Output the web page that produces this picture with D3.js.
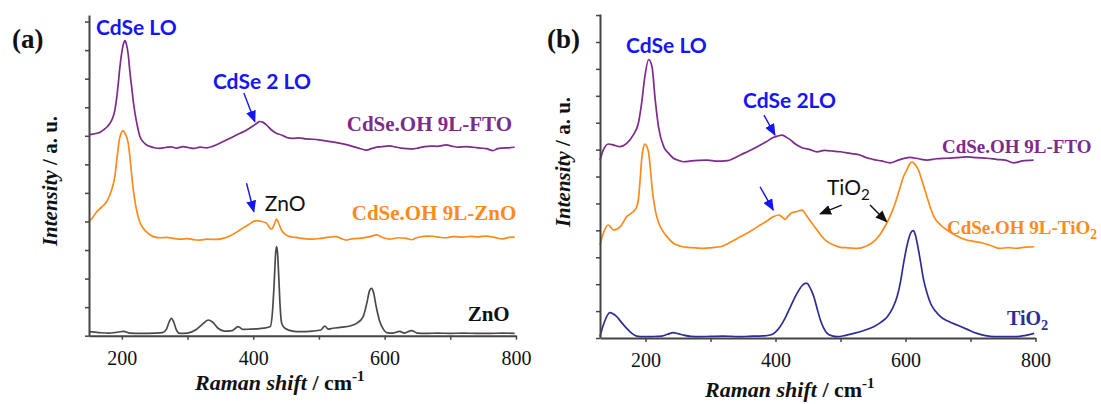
<!DOCTYPE html>
<html>
<head>
<meta charset="utf-8">
<script src="https://cdn.jsdelivr.net/npm/d3@7"></script>
<style>
  body { margin: 0; background: #fff; }
  text { font-family: "Liberation Serif", "Times New Roman", serif; }
</style>
</head>
<body>
<svg id="fig" width="1101" height="404"></svg>
<script>
// ---- Raman axis ticks ----
const ramanTicks = [200, 300, 400, 500, 600, 700, 800];
const ramanLabels = [200, 400, 600, 800];

// ---- Panel (a): spectra [Raman shift (cm-1), intensity (a.u., stacked)] ----
const cdseFto_a = [
  [150,7.04],[156,7.06],[162,7.09],[167,7.12],[172,7.21],[177,7.30],[182,7.44],[186,7.62],
  [189.5,7.91],[192,8.30],[194.6,8.84],[197,9.40],[199.7,9.89],[202.5,10.22],[204.8,10.33],
  [207,10.20],[209.8,9.83],[212,9.30],[214.9,8.72],[217.5,8.20],[220,7.79],[224,7.30],
  [227.6,6.97],[232,6.80],[237.7,6.68],[244,6.62],[250,6.58],[258,6.56],[266,6.59],[275,6.61],
  [283,6.57],[293.5,6.62],[301,6.59],[310,6.56],[319,6.60],[329,6.58],[339,6.64],[349,6.74],
  [359,6.85],[369.5,6.97],[380,7.09],[390,7.20],[400,7.35],[405,7.43],[410,7.50],[415,7.47],
  [420,7.38],[427,7.22],[435,7.09],[443,7.03],[451,6.94],[460,6.91],[470,6.93],[480,6.89],
  [491,6.88],[500,6.86],[510,6.82],[520,6.79],[531.7,6.74],[540,6.70],[550,6.64],[560,6.57],
  [572,6.50],[581,6.56],[590,6.61],[600,6.63],[607.8,6.65],[616,6.61],[625,6.57],[634,6.55],
  [643,6.54],[652,6.58],[661,6.62],[670,6.64],[680,6.63],[694,6.68],[702,6.64],[712,6.60],
  [724,6.62],[735,6.60],[745,6.57],[755,6.55],[765,6.48],[772,6.55],[780,6.57],[789,6.58],[798,6.60]
];
const cdseZno_a = [
  [150,3.99],[156,4.15],[161.7,4.34],[170,4.52],[176.8,4.69],[184.4,5.10],[189.5,5.60],[193,6.30],
  [196.5,6.90],[199.5,7.12],[202,7.18],[205,7.08],[209.7,6.74],[213,6.10],[216,5.40],[219,4.85],
  [222.4,4.40],[227,4.00],[232.6,3.76],[240,3.58],[247.8,3.47],[258,3.43],[268,3.44],[278,3.41],
  [290,3.38],[300,3.40],[310,3.36],[318.8,3.35],[330,3.38],[343,3.37],[354,3.41],[365,3.50],
  [379.7,3.70],[392,3.88],[405,4.03],[413,4.00],[420,3.94],[427.8,3.73],[432,3.90],[435.5,4.08],
  [439,3.92],[443,3.70],[449,3.55],[455.6,3.47],[465,3.44],[477,3.40],[491,3.38],[505,3.42],
  [516,3.45],[526.6,3.47],[534,3.40],[541.8,3.35],[552,3.40],[565,3.42],[578,3.47],[587.5,3.53],
  [597,3.44],[607.8,3.38],[620,3.43],[633,3.41],[641,3.36],[650,3.44],[668,3.49],[680,3.46],
  [693,3.43],[705,3.47],[719,3.45],[730,3.48],[743,3.46],[755,3.49],[767,3.44],[780,3.39],[789,3.44],[798,3.45]
];
const znoRef_a = [
  [150,0.14],[165,0.11],[180,0.09],[195,0.13],[203,0.15],[212,0.09],[230,0.08],[250,0.09],
  [262,0.11],[268,0.23],[272,0.48],[275.6,0.61],[279,0.48],[283,0.20],[288,0.08],[300,0.09],
  [312,0.20],[322,0.39],[331.5,0.55],[338,0.48],[346,0.27],[356,0.16],[368,0.18],[377,0.32],
  [384,0.22],[395,0.23],[410,0.25],[420,0.28],[426,0.32],[429.5,0.90],[432,1.90],[434,2.85],
  [435.5,3.12],[437,2.90],[439,2.00],[441,1.00],[443.5,0.42],[449,0.25],[460,0.16],[471,0.14],
  [490,0.16],[503,0.20],[509,0.34],[514,0.23],[521,0.26],[535,0.30],[547,0.34],[558,0.44],
  [567,0.65],[573,1.15],[577,1.57],[580,1.66],[583,1.53],[587,1.04],[592.5,0.51],[598,0.23],
  [603,0.11],[612,0.09],[623,0.15],[630,0.09],[641,0.18],[650,0.09],[665,0.08],[680,0.09],
  [700,0.08],[720,0.09],[740,0.08],[760,0.08],[780,0.09],[798,0.08]
];

// ---- Panel (b): spectra ----
const cdseFto_b = [
  [130,6.61],[135,6.98],[143,7.21],[151,7.17],[160.8,7.11],[171,7.23],[181,7.54],[189,7.98],
  [194,8.72],[199,9.71],[205,10.35],[210,10.08],[215,8.84],[220,7.85],[228,7.11],[236,6.85],
  [243,6.68],[251,6.60],[259,6.55],[270,6.58],[282,6.60],[295,6.61],[310,6.57],[326,6.59],
  [336,6.68],[346,6.80],[359,6.95],[372,7.11],[385,7.28],[397.4,7.46],[403,7.50],[410,7.54],
  [416,7.47],[423,7.36],[430,7.22],[437.7,7.11],[443.5,7.05],[452,7.01],[464,6.92],[475,6.97],
  [487,6.95],[500,6.92],[515,6.86],[530,6.80],[540,6.70],[550,6.64],[563,6.58],[576,6.51],
  [590,6.62],[607,6.71],[620,6.66],[633,6.61],[648,6.66],[663,6.68],[678,6.70],[694,6.73],
  [710,6.70],[725,6.68],[740,6.64],[755,6.60],[766,6.51],[780,6.58],[797,6.61]
];
const cdseTio2_b = [
  [130,3.45],[135,3.89],[143,4.20],[151,4.01],[161,4.13],[171,4.51],[181,4.69],[186,4.85],
  [189,5.13],[191.5,5.80],[194,6.61],[196.5,7.05],[199,7.21],[202,7.12],[205,6.86],[207.5,6.30],
  [210,5.62],[215,4.75],[220,4.30],[225.7,4.01],[234,3.74],[243,3.52],[253,3.42],[264,3.37],
  [277,3.35],[290,3.33],[303,3.36],[315,3.39],[330,3.55],[346,3.76],[359,3.93],[372,4.13],
  [385,4.32],[397,4.51],[405,4.57],[410,4.50],[415,4.41],[420,4.55],[425,4.65],[433,4.70],
  [441,4.75],[447,4.57],[455,4.30],[464,4.01],[471,3.78],[479.6,3.58],[490,3.45],[500,3.37],
  [512,3.35],[525.7,3.33],[540,3.42],[551,3.58],[560,3.82],[566.6,4.07],[576,4.51],[584,5.00],
  [592,5.62],[597,6.00],[602,6.24],[606,6.45],[610,6.55],[614,6.47],[620,6.24],[626,5.80],
  [633,5.25],[643.6,4.51],[654,4.20],[664,4.01],[678,3.80],[694,3.64],[707,3.58],[720,3.52],
  [733,3.42],[745,3.33],[758,3.36],[771,3.33],[785,3.38],[798,3.39]
];
const tio2Ref_b = [
  [130,0.05],[134,0.40],[138,0.67],[141.5,0.85],[145,0.94],[150,0.90],[156,0.79],[163,0.58],
  [171,0.36],[179,0.17],[186.5,0.07],[197,0.05],[207.7,0.05],[217,0.06],[225,0.07],[234,0.14],
  [243,0.20],[250,0.16],[258,0.11],[270,0.06],[284,0.05],[300,0.06],[320,0.07],[332,0.06],
  [345,0.05],[358,0.06],[370,0.07],[382,0.08],[392,0.11],[400,0.22],[407,0.42],[415,0.75],
  [423,1.16],[430,1.52],[436,1.78],[441,1.95],[446,2.03],[448.7,2.03],[452,1.92],[455.5,1.75],
  [459,1.53],[464,1.10],[469,0.67],[474,0.38],[479.6,0.17],[487,0.08],[495,0.05],[508,0.10],
  [520.5,0.17],[536,0.28],[551,0.42],[562,0.58],[572,0.79],[580,1.10],[587,1.53],[592,2.05],
  [597,2.77],[602,3.40],[607.7,3.89],[611.8,3.99],[615,3.85],[618,3.52],[623,2.85],[628,2.15],
  [633,1.68],[638.5,1.29],[646,1.00],[653.8,0.79],[666,0.62],[679.5,0.48],[695,0.32],[710,0.17],
  [723,0.09],[736,0.05],[755,0.05],[771,0.05],[785,0.10],[798,0.17]
];

// ---- colours ----
const PURPLE = "#7d2b8b", ORANGE = "#ff8a1c", GREY = "#4a4a4a", NAVY = "#2d2d96";
const BLUE = "#1515f5", AXIS = "#444";

const svg = d3.select("#fig");
const defs = svg.append("defs");
[["arrow-blue", BLUE], ["arrow-black", "#111"]].forEach(([id, c]) => {
  defs.append("marker")
    .attr("id", id).attr("markerUnits", "userSpaceOnUse")
    .attr("viewBox", "0 0 12 10").attr("refX", 11).attr("refY", 5)
    .attr("markerWidth", 12).attr("markerHeight", 10).attr("orient", "auto")
    .append("path").attr("d", "M0,0 L12,5 L0,10 Z").attr("fill", c);
});

const SANS = "Lato, 'Open Sans', sans-serif";
const SERIF = "'Liberation Serif', 'Times New Roman', serif";

const panels = [
  {
    tag: "(a)", tagPos: [12, 48],
    xDomain: [150, 800], xRange: [89, 516],
    yDomain: [0, 11.23], yRange: [335.7, 15], yTicks: d3.range(0, 12),
    xTitle: [195, 390], yTitle: [57, 181],
    series: [[cdseFto_a, PURPLE], [cdseZno_a, ORANGE], [znoRef_a, GREY]],
    texts: [
      { t: ["CdSe LO"], x: 160.6, y: 10.53, c: BLUE, sans: true, size: 21, bold: true },
      { t: ["CdSe 2 LO"], x: 338.6, y: 8.64, c: BLUE, sans: true, size: 21, bold: true },
      { t: ["CdSe.OH 9L-FTO"], x: 542.4, y: 7.17, c: PURPLE, size: 21, bold: true },
      { t: ["CdSe.OH 9L-ZnO"], x: 550, y: 4.05, c: ORANGE, size: 21, bold: true },
      { t: ["ZnO"], x: 417.7, y: 4.37, c: "#111", sans: true, size: 21 },
      { t: ["ZnO"], x: 726.4, y: 0.51, c: "#111", size: 21, bold: true }
    ],
    arrows: [
      { from: [385.7, 8.50], to: [402.5, 7.49], m: "arrow-blue", c: BLUE },
      { from: [389.8, 5.34], to: [401, 4.34], m: "arrow-blue", c: BLUE }
    ]
  },
  {
    tag: "(b)", tagPos: [547, 48],
    xDomain: [130, 800], xRange: [600, 1035.5],
    yDomain: [0, 12.04], yRange: [338, 14], yTicks: d3.range(0, 13),
    xTitle: [705, 397], yTitle: [570, 162],
    series: [[cdseFto_b, PURPLE], [cdseTio2_b, ORANGE], [tio2Ref_b, NAVY]],
    texts: [
      { t: ["CdSe LO"], x: 170, y: 10.59, c: BLUE, sans: true, size: 21, bold: true },
      { t: ["CdSe 2LO"], x: 350, y: 8.54, c: BLUE, sans: true, size: 21, bold: true },
      { t: ["CdSe.OH 9L-FTO"], x: 656.2, y: 6.87, c: PURPLE, size: 19, bold: true },
      { t: ["CdSe.OH 9L-TiO", "2"], x: 663.8, y: 3.86, c: ORANGE, size: 19, bold: true },
      { t: ["TiO", "2"], x: 479.2, y: 5.31, c: "#111", sans: true, size: 21 },
      { t: ["TiO", "2"], x: 756.2, y: 0.48, c: NAVY, size: 20, bold: true }
    ],
    arrows: [
      { from: [382.3, 8.28], to: [399.2, 7.54], m: "arrow-blue", c: BLUE },
      { from: [376.2, 5.62], to: [396.6, 4.75], m: "arrow-blue", c: BLUE },
      { from: [501.8, 4.94], to: [468.5, 4.61], m: "arrow-black", c: "#111" },
      { from: [545.4, 4.94], to: [571.1, 4.32], m: "arrow-black", c: "#111" }
    ]
  }
];

panels.forEach(p => {
  const x = d3.scaleLinear().domain(p.xDomain).range(p.xRange);
  const y = d3.scaleLinear().domain(p.yDomain).range(p.yRange);
  const g = svg.append("g");

  // spectra
  const line = d3.line().x(d => x(d[0])).y(d => y(d[1])).curve(d3.curveMonotoneX);
  p.series.forEach(([data, color]) => {
    g.append("path").datum(data).attr("d", line)
      .attr("fill", "none").attr("stroke", color)
      .attr("stroke-width", 1.7).attr("stroke-linejoin", "round");
  });

  // axes
  const xAxis = d3.axisBottom(x).tickValues(ramanTicks)
    .tickFormat(v => ramanLabels.includes(v) ? v : "")
    .tickSize(4).tickSizeOuter(0).tickPadding(11);
  const gx = g.append("g").attr("transform", `translate(0,${p.yRange[0]})`).call(xAxis);
  const yAxis = d3.axisLeft(y).tickValues(p.yTicks).tickFormat("").tickSize(4).tickSizeOuter(0);
  const gy = g.append("g").attr("transform", `translate(${p.xRange[0]},0)`).call(yAxis);
  [gx, gy].forEach(a => {
    a.select(".domain").attr("stroke", AXIS).attr("stroke-width", 2);
    a.selectAll(".tick line").attr("stroke", AXIS).attr("stroke-width", 1.5);
  });
  gx.selectAll(".tick text")
    .style("font-family", SERIF).attr("font-size", 20).attr("fill", "#111");

  // axis titles
  const xt = svg.append("text").attr("x", p.xTitle[0]).attr("y", p.xTitle[1])
    .style("font-family", SERIF)
    .attr("font-size", 22).attr("font-weight", "bold").attr("fill", "#111");
  xt.append("tspan").attr("font-style", "italic").text("Raman shift");
  xt.append("tspan").text(" / cm");
  xt.append("tspan").attr("dy", -9).attr("font-size", 15).text("-1");

  const yt = svg.append("text")
    .attr("transform", `translate(${p.yTitle[0]},${p.yTitle[1]}) rotate(-90)`)
    .attr("text-anchor", "middle").style("font-family", SERIF)
    .attr("font-size", 21).attr("font-weight", "bold").attr("fill", "#111");
  yt.append("tspan").attr("font-style", "italic").text("Intensity");
  yt.append("tspan").text(" / a. u.");

  // panel tag
  svg.append("text").attr("x", p.tagPos[0]).attr("y", p.tagPos[1])
    .style("font-family", SERIF)
    .attr("font-size", 27).attr("font-weight", "bold").attr("fill", "#111").text(p.tag);

  // labels
  p.texts.forEach(l => {
    const t = g.append("text").attr("x", x(l.x)).attr("y", y(l.y))
      .attr("fill", l.c).attr("font-size", l.size)
      .attr("font-weight", l.bold ? "bold" : "normal")
      .style("font-family", l.sans ? SANS : SERIF);
    t.append("tspan").text(l.t[0]);
    if (l.t[1]) t.append("tspan").attr("dy", 5).attr("font-size", l.size * 0.72).text(l.t[1]);
  });

  // arrows
  p.arrows.forEach(a => {
    g.append("line")
      .attr("x1", x(a.from[0])).attr("y1", y(a.from[1]))
      .attr("x2", x(a.to[0])).attr("y2", y(a.to[1]))
      .attr("stroke", a.c).attr("stroke-width", 1.4)
      .attr("marker-end", `url(#${a.m})`);
  });
});
</script>
</body>
</html>
